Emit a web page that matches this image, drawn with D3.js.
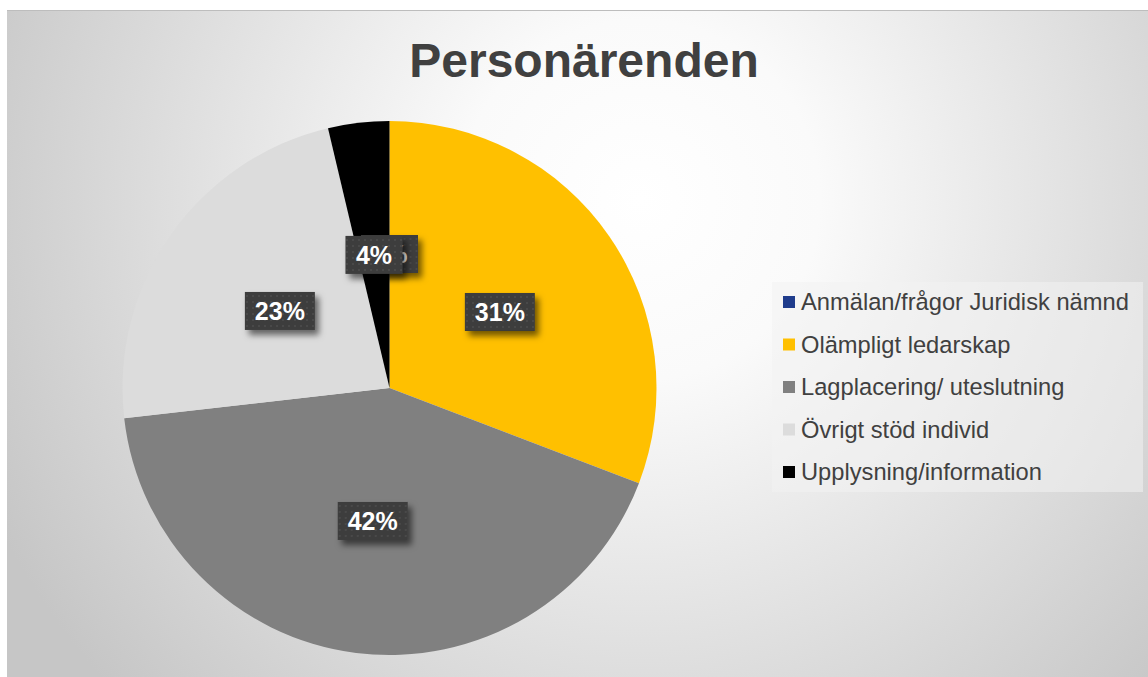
<!DOCTYPE html>
<html><head><meta charset="utf-8">
<script src="https://cdn.jsdelivr.net/npm/d3@7"></script>
<style>html,body{margin:0;padding:0;background:#fff;}svg{display:block;}</style>
</head><body>
<svg id="chart" width="1148" height="677"></svg>
<script>
const title = "Personärenden";
const categories = ["Anmälan/frågor Juridisk nämnd","Olämpligt ledarskap","Lagplacering/ uteslutning","Övrigt stöd individ","Upplysning/information"];
const values = [0, 30.8, 42.4, 23.1, 3.7];
const labels = ["0%","31%","42%","23%","4%"];
const colors = ["#1F3C8C","#FFC000","#808080","#DCDCDC","#000000"];

const svg = d3.select("#chart");
const defs = svg.append("defs");
const bg = defs.append("radialGradient").attr("id","bg").attr("gradientUnits","userSpaceOnUse")
  .attr("cx",640).attr("cy",200).attr("r",720);
bg.append("stop").attr("offset","0").attr("stop-color","#ffffff");
bg.append("stop").attr("offset","0.25").attr("stop-color","#fafafa");
bg.append("stop").attr("offset","1").attr("stop-color","#c6c6c6");
const pat = defs.append("pattern").attr("id","dots").attr("patternUnits","userSpaceOnUse").attr("width",6).attr("height",6);
pat.append("rect").attr("width",6).attr("height",6).attr("fill","#3c3c3c");
pat.append("circle").attr("cx",3).attr("cy",3).attr("r",1).attr("fill","#4e4e4e");
const f = defs.append("filter").attr("id","sh").attr("x","-30%").attr("y","-30%").attr("width","170%").attr("height","180%");
f.append("feDropShadow").attr("dx",4).attr("dy",5).attr("stdDeviation",3).attr("flood-color","#000").attr("flood-opacity",0.55);

svg.append("rect").attr("x",7).attr("y",10).attr("width",1141).attr("height",667).attr("fill","url(#bg)");
svg.append("line").attr("x1",7).attr("x2",1148).attr("y1",10.5).attr("y2",10.5).attr("stroke","#bdbdbd").attr("stroke-width",1);

svg.append("text").attr("x",584).attr("y",77).attr("text-anchor","middle")
  .attr("font-family","Liberation Sans, Arial, sans-serif").attr("font-weight","bold").attr("font-size",48)
  .attr("fill","#404040").text(title);

const cx = 389.5, cy = 388, R = 267;
const pie = d3.pie().sort(null).value(d => d)(values);
const arc = d3.arc().innerRadius(0).outerRadius(R);
const labelArc = d3.arc().innerRadius(134).outerRadius(134);
const g = svg.append("g").attr("transform",`translate(${cx},${cy})`);
g.selectAll("path").data(pie).join("path").attr("d",arc).attr("fill",(d,i)=>colors[i]);

const lg = g.selectAll("g.lbl").data(pie).join("g").attr("class","lbl")
  .attr("transform",d=>`translate(${labelArc.centroid(d)})`);
lg.each(function(d,i){
  const s = d3.select(this);
  const w = labels[i].length === 2 ? 57 : 70, h = 38;
  s.append("rect").attr("x",-w/2).attr("y",-h/2).attr("width",w).attr("height",h)
    .attr("fill","url(#dots)").attr("filter","url(#sh)");
  s.append("text").attr("text-anchor","middle").attr("y",9)
    .attr("font-family","Liberation Sans, Arial, sans-serif").attr("font-weight","bold").attr("font-size",25)
    .attr("fill","#ffffff").text(labels[i]);
});

const leg = svg.append("g");
leg.append("rect").attr("x",772).attr("y",282).attr("width",371).attr("height",210).attr("fill","#f2f2f2").attr("opacity",0.55);
const ly = d3.scalePoint().domain(categories).range([302,472]);
const items = leg.selectAll("g.it").data(categories).join("g").attr("class","it")
  .attr("transform",d=>`translate(0,${ly(d)})`);
items.append("rect").attr("x",783).attr("y",-6).attr("width",12).attr("height",12).attr("fill",(d,i)=>colors[i]);
items.append("text").attr("x",801).attr("y",8).attr("font-family","Liberation Sans, Arial, sans-serif")
  .attr("font-size",23.7).attr("fill","#404040").text(d=>d);
</script>
</body></html>
